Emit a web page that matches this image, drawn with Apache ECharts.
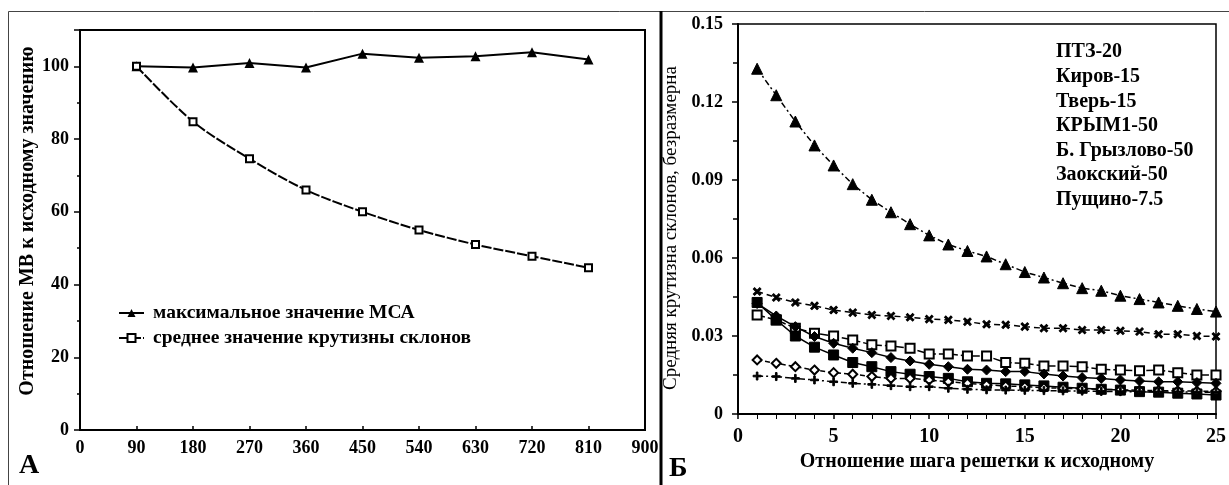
<!DOCTYPE html>
<html>
<head>
<meta charset="utf-8">
<script src="https://cdn.jsdelivr.net/npm/echarts@6/dist/echarts.min.js"></script>
<style>
html,body{margin:0;padding:0;background:#fff;}
#c{width:1229px;height:485px;}
</style>
</head>
<body>
<div id="c"></div>
<script>
// ---- Panel A data ----
var aX = [90, 180, 270, 360, 450, 540, 630, 720, 810];
var aMaxMCA = [100, 99.7, 100.9, 99.7, 103.5, 102.4, 102.8, 103.9, 101.9];
var aMeanSlope = [100, 84.8, 74.6, 66.0, 60.0, 55.0, 51.0, 47.8, 44.6];
var aNames = ['максимальное значение МСА', 'среднее значение крутизны склонов'];

// ---- Panel Б data ----
var bX = [1,2,3,4,5,6,7,8,9,10,11,12,13,14,15,16,17,18,19,20,21,22,23,24,25];
var bNames = ['ПТЗ-20', 'Киров-15', 'Тверь-15', 'КРЫМ1-50', 'Б. Грызлово-50', 'Заокский-50', 'Пущино-7.5'];
var bPTZ = [0.1328,0.1226,0.1125,0.1033,0.0956,0.0884,0.0824,0.0776,0.0730,0.0687,0.0652,0.0627,0.0606,0.0576,0.0546,0.0525,0.0503,0.0484,0.0474,0.0455,0.0442,0.0429,0.0416,0.0404,0.0394];
var bKirov = [0.0471,0.0448,0.0429,0.0416,0.0400,0.0390,0.0381,0.0377,0.0372,0.0365,0.0362,0.0355,0.0345,0.0343,0.0336,0.0330,0.0330,0.0323,0.0323,0.0320,0.0317,0.0307,0.0307,0.0300,0.0298];
var bTver = [0.0381,0.0362,0.0330,0.0311,0.0300,0.0285,0.0266,0.0262,0.0253,0.0231,0.0231,0.0223,0.0223,0.0198,0.0195,0.0185,0.0185,0.0182,0.0172,0.0169,0.0166,0.0169,0.0159,0.0150,0.0150];
var bKrym = [0.0425,0.0377,0.0336,0.0298,0.0272,0.0253,0.0236,0.0217,0.0204,0.0191,0.0182,0.0172,0.0169,0.0163,0.0163,0.0154,0.0146,0.0140,0.0137,0.0131,0.0127,0.0124,0.0124,0.0121,0.0118];
var bGryz = [0.0429,0.0362,0.0300,0.0257,0.0227,0.0198,0.0182,0.0163,0.0153,0.0144,0.0137,0.0124,0.0118,0.0116,0.0112,0.0108,0.0103,0.0099,0.0095,0.0092,0.0086,0.0084,0.0080,0.0077,0.0073];
var bZaok = [0.0208,0.0195,0.0182,0.0169,0.0159,0.0153,0.0144,0.0137,0.0137,0.0131,0.0124,0.0118,0.0112,0.0108,0.0105,0.0101,0.0099,0.0097,0.0095,0.0093,0.0091,0.0090,0.0089,0.0088,0.0087];
var bPush = [0.0146,0.0144,0.0137,0.0131,0.0124,0.0118,0.0114,0.0109,0.0105,0.0105,0.0099,0.0095,0.0093,0.0092,0.0091,0.0090,0.0089,0.0088,0.0087,0.0086,0.0086,0.0085,0.0085,0.0084,0.0084];

function pairs(xs, ys){ return xs.map(function(x,i){ return [x, ys[i]]; }); }

var serif = 'Liberation Serif';
var plusPath = 'path://M4,0H6V4H10V6H6V10H4V6H0V4H4Z';

function bSeries(name, data, symbol, size, lineType, extra){
  var s = {
    name: name, type: 'line', xAxisIndex: 1, yAxisIndex: 1,
    data: pairs(bX, data), symbol: symbol, symbolSize: size,
    lineStyle: {color: '#000', width: 1.5, type: lineType},
    itemStyle: {color: '#000', borderColor: '#000'},
    emphasis: {disabled: true}, silent: true, z: 3
  };
  if (extra) for (var k in extra) s[k] = extra[k];
  return s;
}

var chart = echarts.init(document.getElementById('c'), null, {renderer: 'canvas'});
chart.setOption({
  animation: false,
  backgroundColor: '#fff',
  textStyle: {fontFamily: serif, color: '#000'},
  grid: [
    {left: 80, top: 30, width: 565, height: 400, show: true, borderColor: '#000', borderWidth: 2, backgroundColor: 'transparent'},
    {left: 738, top: 24, width: 485, height: 390, show: true, borderColor: '#000', borderWidth: 1.5, backgroundColor: 'transparent'}
  ],
  xAxis: [
    {gridIndex: 0, type: 'value', min: 0, max: 900, interval: 90,
     axisLine: {lineStyle: {color: '#000', width: 2}},
     axisTick: {inside: true, length: 4, lineStyle: {color: '#000', width: 1.5}},
     splitLine: {show: false},
     axisLabel: {margin: 9, fontFamily: serif, fontWeight: 'bold', fontSize: 18, color: '#000'}},
    {gridIndex: 1, type: 'value', min: 0, max: 25, interval: 5,
     name: 'Отношение шага решетки к исходному', nameLocation: 'middle', nameGap: 35,
     nameTextStyle: {fontFamily: serif, fontWeight: 'bold', fontSize: 20, color: '#000'},
     axisLine: {lineStyle: {color: '#000', width: 2}},
     axisTick: {length: 5, lineStyle: {color: '#000', width: 1.5}},
     minorTick: {show: true, splitNumber: 5, length: 5, lineStyle: {color: '#000', width: 1}},
     splitLine: {show: false}, minorSplitLine: {show: false},
     axisLabel: {margin: 13, fontFamily: serif, fontWeight: 'bold', fontSize: 20, color: '#000'}}
  ],
  yAxis: [
    {gridIndex: 0, type: 'value', min: 0, max: 110, interval: 20,
     name: 'Отношение МВ к исходному значению', nameLocation: 'middle', nameGap: 37, nameRotate: 90,
     nameTextStyle: {fontFamily: serif, fontWeight: 'bold', fontSize: 20, color: '#000', padding: [0,0,0,18]},
     axisLine: {lineStyle: {color: '#000', width: 2}},
     axisTick: {length: 6, lineStyle: {color: '#000', width: 1.5}},
     minorTick: {show: true, splitNumber: 2, length: 3, lineStyle: {color: '#000', width: 1.5}},
     splitLine: {show: false}, minorSplitLine: {show: false},
     axisLabel: {margin: 11, showMaxLabel: false, fontFamily: serif, fontWeight: 'bold', fontSize: 18, color: '#000'}},
    {gridIndex: 1, type: 'value', min: 0, max: 0.15, interval: 0.03,
     name: 'Средняя крутизна склонов, безразмерна', nameLocation: 'middle', nameGap: 57, nameRotate: 90,
     nameTextStyle: {fontFamily: serif, fontSize: 19, color: '#000', padding: [0,0,0,-18]},
     axisLine: {lineStyle: {color: '#000', width: 2}},
     axisTick: {length: 6, lineStyle: {color: '#000', width: 1.5}},
     minorTick: {show: true, splitNumber: 2, length: 5, lineStyle: {color: '#000', width: 1.5}},
     splitLine: {show: false}, minorSplitLine: {show: false},
     axisLabel: {margin: 15, fontFamily: serif, fontWeight: 'bold', fontSize: 18, color: '#000',
       formatter: function(v){ return v === 0 ? '0' : v.toFixed(2); }}}
  ],
  legend: [
    {data: aNames, orient: 'vertical', left: 113, top: 298, itemGap: 5, itemWidth: 25, itemHeight: 10,
     textStyle: {fontFamily: serif, fontWeight: 'bold', fontSize: 19.5, color: '#000', padding: [0,0,0,4]},
     selectedMode: false},
    {data: bNames, orient: 'vertical', left: 1045, top: 35, itemGap: 0, itemWidth: 0, itemHeight: 0,
     icon: 'rect',
     textStyle: {fontFamily: serif, fontWeight: 'bold', fontSize: 20, lineHeight: 24.6, color: '#000'},
     selectedMode: false}
  ],
  graphic: [
    {type: 'rect', shape: {x: 8.5, y: 11.5, width: 1240, height: 500}, style: {fill: 'none', stroke: '#444', lineWidth: 1}, silent: true},
    {type: 'line', shape: {x1: 661, y1: 11, x2: 661, y2: 485}, style: {stroke: '#000', lineWidth: 3}, silent: true},
    {type: 'text', left: 19, top: 452, style: {text: 'А', font: 'bold 28px "Liberation Serif"', fill: '#000'}, silent: true},
    {type: 'text', left: 669, top: 455, style: {text: 'Б', font: 'bold 28px "Liberation Serif"', fill: '#000'}, silent: true}
  ],
  series: [
    {name: aNames[0], type: 'line', xAxisIndex: 0, yAxisIndex: 0, data: pairs(aX, aMaxMCA),
     symbol: 'triangle', symbolSize: 10, lineStyle: {color: '#000', width: 2},
     itemStyle: {color: '#000'}, emphasis: {disabled: true}, silent: true, z: 3},
    {name: aNames[1], type: 'line', xAxisIndex: 0, yAxisIndex: 0, data: pairs(aX, aMeanSlope),
     symbol: 'emptyRect', symbolSize: 7, smooth: 0.3, lineStyle: {color: '#000', width: 2, type: [10, 2]},
     itemStyle: {color: '#000', borderColor: '#000', borderWidth: 1.5}, emphasis: {disabled: true}, silent: true, z: 3},
    bSeries(bNames[0], bPTZ, 'triangle', 11, [6, 3, 2, 3]),
    bSeries(bNames[1], bKirov, plusPath, 9, [6, 4], {symbolRotate: 45}),
    bSeries(bNames[2], bTver, 'emptyRect', 9, [8, 3], {itemStyle: {color: '#000', borderColor: '#000', borderWidth: 1.5}}),
    bSeries(bNames[3], bKrym, 'diamond', 10, 'solid'),
    bSeries(bNames[4], bGryz, 'rect', 10, 'solid'),
    bSeries(bNames[5], bZaok, 'emptyDiamond', 9, [5, 3], {itemStyle: {color: '#000', borderColor: '#000', borderWidth: 1.2}}),
    bSeries(bNames[6], bPush, plusPath, 8, [6, 3, 2, 3])
  ]
});
</script>
</body>
</html>
